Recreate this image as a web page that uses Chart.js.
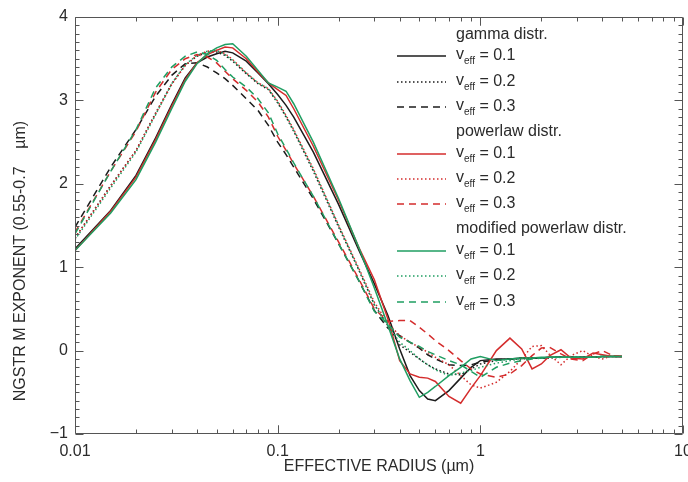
<!DOCTYPE html>
<html>
<head>
<meta charset="utf-8">
<script src="https://cdn.jsdelivr.net/npm/chart.js@4"></script>
<style>
  html, body { margin: 0; padding: 0; background: #fff; }
  #wrap { width: 688px; height: 482px; }
</style>
</head>
<body>
<div id="wrap"><canvas id="angstromChart" width="688" height="482"></canvas></div>
<script>
// Effective radius grid (µm)
const radius = [0.01, 0.015, 0.02, 0.025, 0.03, 0.035, 0.04, 0.045, 0.05, 0.055, 0.06, 0.07, 0.08, 0.09, 0.1, 0.11, 0.12, 0.15, 0.2, 0.25, 0.3, 0.35, 0.4, 0.45, 0.5, 0.55, 0.6, 0.7, 0.8, 0.9, 1.0, 1.2, 1.4, 1.6, 1.8, 2.0, 2.2, 2.5, 2.8, 3.2, 3.6, 4.0, 4.5, 5.0];

// gamma distr.
const gamma01 = [1.22, 1.68, 2.1, 2.55, 2.95, 3.27, 3.45, 3.52, 3.56, 3.59, 3.57, 3.47, 3.33, 3.2, 3.07, 2.94, 2.8, 2.38, 1.75, 1.22, 0.8, 0.42, 0.02, -0.3, -0.48, -0.58, -0.6, -0.48, -0.33, -0.2, -0.12, -0.1, -0.1, -0.09, -0.09, -0.09, -0.08, -0.08, -0.08, -0.08, -0.08, -0.07, -0.07, -0.07];
const gamma02 = [1.35, 1.98, 2.4, 2.85, 3.2, 3.42, 3.53, 3.58, 3.58, 3.54, 3.47, 3.32, 3.2, 3.13, 2.97, 2.8, 2.63, 2.15, 1.48, 0.98, 0.55, 0.3, 0.07, -0.02, -0.1, -0.17, -0.22, -0.28, -0.29, -0.22, -0.16, -0.12, -0.1, -0.1, -0.09, -0.09, -0.09, -0.08, -0.08, -0.08, -0.08, -0.07, -0.07, -0.07];
const gamma03 = [1.48, 2.2, 2.65, 3.05, 3.3, 3.44, 3.45, 3.4, 3.33, 3.26, 3.18, 3.02, 2.88, 2.7, 2.5, 2.35, 2.2, 1.82, 1.28, 0.85, 0.48, 0.27, 0.18, 0.1, 0.03, -0.05, -0.1, -0.17, -0.18, -0.17, -0.14, -0.11, -0.1, -0.09, -0.09, -0.09, -0.08, -0.08, -0.08, -0.08, -0.08, -0.07, -0.07, -0.07];

// powerlaw distr.
const power01 = [1.2, 1.67, 2.08, 2.53, 2.93, 3.25, 3.45, 3.55, 3.6, 3.64, 3.63, 3.5, 3.34, 3.21, 3.13, 3.06, 2.9, 2.45, 1.8, 1.25, 0.85, 0.38, -0.12, -0.28, -0.32, -0.33, -0.37, -0.55, -0.63, -0.45, -0.3, 0.0, 0.15, 0.02, -0.22, -0.16, -0.06, 0.01, -0.09, -0.1, -0.03, -0.05, -0.07, -0.07];
const power02 = [1.35, 1.97, 2.4, 2.84, 3.19, 3.42, 3.54, 3.59, 3.6, 3.56, 3.49, 3.33, 3.21, 3.14, 2.99, 2.82, 2.65, 2.18, 1.5, 1.0, 0.58, 0.33, 0.18, 0.1, 0.04, -0.02, -0.08, -0.17, -0.3, -0.41, -0.45, -0.38, -0.25, -0.1, 0.05, 0.06, -0.05, -0.17, -0.06, 0.0, -0.07, -0.1, -0.06, -0.07];
const power03 = [1.42, 2.15, 2.63, 3.1, 3.37, 3.5, 3.55, 3.52, 3.45, 3.35, 3.26, 3.12, 2.98, 2.8, 2.57, 2.4, 2.24, 1.85, 1.3, 0.87, 0.5, 0.35, 0.36, 0.36, 0.28, 0.2, 0.12, 0.0, -0.12, -0.22, -0.28, -0.32, -0.28, -0.18, -0.06, 0.03, 0.04, -0.04, -0.1, -0.12, -0.04, 0.0, -0.06, -0.07];

// modified powerlaw distr.
const modpow01 = [1.2, 1.65, 2.05, 2.5, 2.9, 3.23, 3.44, 3.56, 3.63, 3.67, 3.68, 3.53, 3.36, 3.21, 3.16, 3.11, 2.96, 2.5, 1.82, 1.25, 0.75, 0.3, -0.1, -0.36, -0.56, -0.5, -0.43, -0.3, -0.2, -0.1, -0.07, -0.12, -0.1, -0.09, -0.09, -0.08, -0.08, -0.08, -0.08, -0.08, -0.08, -0.07, -0.07, -0.07];
const modpow02 = [1.33, 1.95, 2.38, 2.83, 3.2, 3.43, 3.54, 3.59, 3.6, 3.55, 3.48, 3.33, 3.21, 3.14, 2.98, 2.81, 2.64, 2.17, 1.5, 0.98, 0.55, 0.3, 0.1, 0.0, -0.1, -0.17, -0.23, -0.3, -0.27, -0.24, -0.2, -0.15, -0.12, -0.1, -0.09, -0.09, -0.08, -0.08, -0.08, -0.08, -0.08, -0.07, -0.07, -0.07];
const modpow03 = [1.4, 2.15, 2.65, 3.15, 3.4, 3.53, 3.58, 3.55, 3.48, 3.37, 3.28, 3.16, 3.02, 2.85, 2.6, 2.42, 2.25, 1.85, 1.28, 0.85, 0.47, 0.32, 0.16, 0.1, 0.05, -0.01, -0.05, -0.12, -0.17, -0.25, -0.32, -0.2, -0.15, -0.12, -0.1, -0.09, -0.08, -0.08, -0.08, -0.08, -0.08, -0.07, -0.07, -0.07];

// Axis ticks / labels
const xTickValues = [0.01, 0.1, 1, 10];
const yTickValues = [-1, 0, 1, 2, 3, 4];
const groupNames = ['gamma distr.', 'powerlaw distr.', 'modified powerlaw distr.'];
const veffValues = ['0.1', '0.2', '0.3'];
const xTitle = 'EFFECTIVE RADIUS (\u00b5m)';
const yTitle = 'NGSTR M EXPONENT (0.55-0.7    \u00b5m)';

const FONT = '"Liberation Sans", Arial, Helvetica, sans-serif';
const TEXT = '#2b2b2b';
const AXIS = '#555555';
const BLACK = '#1c1c1c', RED = '#d42c2c', GREEN = '#1f9e62';
const DOT = [1.5, 2.5], DASH = [7, 5];

function pts(ys) { return radius.map((r, i) => ({ x: r, y: ys[i] })); }
function ds(label, ys, color, dash, order) {
    return { label, data: pts(ys), borderColor: color, borderDash: dash, borderWidth: 1.5, pointRadius: 0, fill: false, tension: 0, order };
}

const datasets = [
    ds('gamma 0.1', gamma01, BLACK, [], 3),
    ds('gamma 0.2', gamma02, BLACK, DOT, 3),
    ds('gamma 0.3', gamma03, BLACK, DASH, 3),
    ds('powerlaw 0.1', power01, RED, [], 2),
    ds('powerlaw 0.2', power02, RED, DOT, 2),
    ds('powerlaw 0.3', power03, RED, DASH, 2),
    ds('modified powerlaw 0.1', modpow01, GREEN, [], 1),
    ds('modified powerlaw 0.2', modpow02, GREEN, DOT, 1),
    ds('modified powerlaw 0.3', modpow03, GREEN, DASH, 1)
];

// frame with inward ticks on all four sides
function drawFrame(chart) {
    const { ctx, chartArea: a, scales } = chart;
    const xs = scales.x, ys = scales.y;
    const L = Math.round(a.left) + 0.5, R = Math.round(a.right) - 0.5;
    const T = Math.round(a.top) + 0.5, B = Math.round(a.bottom) - 0.5;
    ctx.save();
    ctx.strokeStyle = AXIS;
    ctx.lineWidth = 1;
    ctx.setLineDash([]);
    ctx.beginPath();
    ctx.moveTo(L, T); ctx.lineTo(R, T); ctx.lineTo(R, B); ctx.lineTo(L, B); ctx.closePath();
    for (let k = -10; k <= 40; k++) {
        const y = Math.round(ys.getPixelForValue(k / 10)) + 0.5;
        const len = k % 10 === 0 ? 8 : 4;
        ctx.moveTo(L, y); ctx.lineTo(L + len, y);
        ctx.moveTo(R, y); ctx.lineTo(R - len, y);
    }
    [0.01, 0.1, 1].forEach(dec => {
        for (let m = 1; m <= 10; m++) {
            const x = Math.round(xs.getPixelForValue(m * dec)) + 0.5;
            const len = (m === 1 || m === 10) ? 8 : 4;
            ctx.moveTo(x, B); ctx.lineTo(x, B - len);
            ctx.moveTo(x, T); ctx.lineTo(x, T + len);
        }
    });
    ctx.stroke();
    ctx.restore();
}

function drawLegend(chart) {
    const { ctx } = chart;
    const headerY = [35, 132, 229];
    const rowY = [[56, 82, 107], [154, 179, 204], [251, 276, 302]];
    const lineX0 = 397, lineX1 = 446, textX = 456;
    ctx.save();
    ctx.textBaseline = 'middle';
    ctx.textAlign = 'left';
    groupNames.forEach((name, g) => {
        ctx.fillStyle = TEXT;
        ctx.font = '16px ' + FONT;
        ctx.fillText(name, textX, headerY[g]);
        veffValues.forEach((v, j) => {
            const d = chart.data.datasets[g * 3 + j];
            const y = rowY[g][j];
            ctx.strokeStyle = d.borderColor;
            ctx.lineWidth = 1.5;
            ctx.setLineDash(d.borderDash);
            ctx.beginPath();
            ctx.moveTo(lineX0, y); ctx.lineTo(lineX1, y);
            ctx.stroke();
            ctx.setLineDash([]);
            ctx.fillStyle = TEXT;
            ctx.font = '16px ' + FONT;
            ctx.fillText('v', textX, y - 1);
            const vw = ctx.measureText('v').width;
            ctx.font = '10px ' + FONT;
            ctx.fillText('eff', textX + vw, y + 5);
            const ew = ctx.measureText('eff').width;
            ctx.font = '16px ' + FONT;
            ctx.fillText(' = ' + v, textX + vw + ew, y);
        });
    });
    ctx.restore();
}

const decorPlugin = {
    id: 'decorPlugin',
    afterDraw(chart) {
        drawFrame(chart);
        const ctx = chart.ctx;
        // y title, centred a bit low like the original
        ctx.save();
        ctx.fillStyle = TEXT;
        ctx.font = '16px ' + FONT;
        ctx.textAlign = 'center';
        ctx.textBaseline = 'middle';
        ctx.translate(21, 261);
        ctx.rotate(-Math.PI / 2);
        ctx.fillText(yTitle, 0, 0);
        ctx.restore();
        drawLegend(chart);
    }
};

new Chart(document.getElementById('angstromChart'), {
    type: 'line',
    data: { datasets },
    options: {
        responsive: false,
        animation: false,
        events: [],
        layout: { padding: { top: 17, right: 5, left: 0, bottom: 0 } },
        plugins: { legend: { display: false }, tooltip: { enabled: false } },
        scales: {
            x: {
                type: 'logarithmic',
                min: 0.01, max: 10,
                grid: { display: false, drawTicks: false },
                border: { display: false },
                afterBuildTicks: s => { s.ticks = xTickValues.map(v => ({ value: v })); },
                afterFit: s => { s.height = 48; s.paddingRight = 0; s.paddingLeft = 0; },
                ticks: {
                    autoSkip: false, maxRotation: 0, padding: 8,
                    color: TEXT, font: { family: FONT, size: 16 },
                    callback: v => String(v)
                },
                title: { display: true, text: xTitle, color: TEXT, font: { family: FONT, size: 16 }, padding: { top: 0, bottom: 6 } }
            },
            y: {
                min: -1, max: 4,
                grid: { display: false, drawTicks: false },
                border: { display: false },
                afterBuildTicks: s => { s.ticks = yTickValues.map(v => ({ value: v })); },
                afterFit: s => { s.width = 75; },
                ticks: {
                    padding: 7, color: TEXT, font: { family: FONT, size: 16 },
                    callback: v => String(v).replace('-', '\u2212')
                }
            }
        }
    },
    plugins: [decorPlugin]
});
</script>
</body>
</html>
